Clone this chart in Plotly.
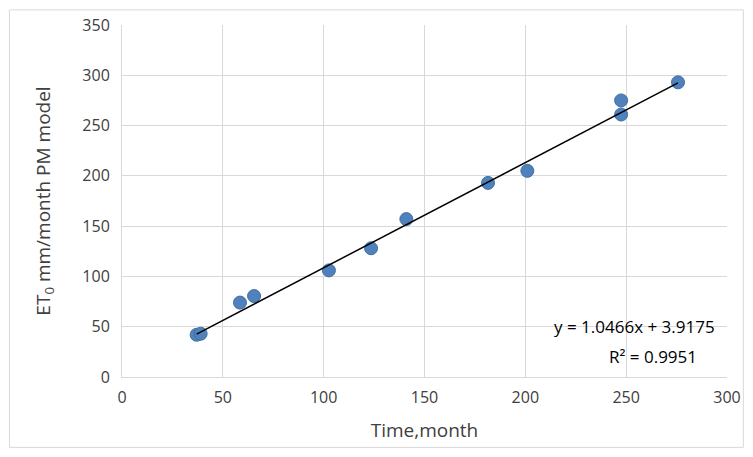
import plotly.graph_objects as go

time_month = [37, 39, 58.5, 65.5, 102.6, 123.5, 141, 181.5, 201, 247.5, 247.5, 275.7]
et0 = [42, 43, 74, 80.5, 106, 128, 157, 193, 205, 275, 261, 293]
slope, intercept = 1.0466, 3.9175
line_x = [min(time_month), max(time_month)]
line_y = [slope * v + intercept for v in line_x]

fig = go.Figure()
fig.add_trace(go.Scatter(x=time_month, y=et0, mode="markers",
                         marker=dict(color="#4F81BD", size=13, line=dict(color="#41719C", width=1))))
fig.add_trace(go.Scatter(x=line_x, y=line_y, mode="lines", line=dict(color="black", width=1.5)))
grid = "#D9D9D9"
fig.update_layout(
    width=737, height=441, showlegend=False,
    margin=dict(l=114, r=18, t=17, b=72),
    plot_bgcolor="white", paper_bgcolor="white",
    font=dict(family="Open Sans", size=16, color="#404040"),
    xaxis=dict(range=[0, 300], dtick=50, showgrid=True, gridcolor=grid, zeroline=False, automargin=False,
               showline=True, linecolor=grid, ticks="", ticklabelstandoff=6,
               title=dict(text="Time,month", standoff=16)),
    yaxis=dict(range=[0, 350], dtick=50, showgrid=True, gridcolor=grid, zeroline=False, automargin=False,
               showline=True, linecolor=grid, ticks="", ticklabelstandoff=8,
               title=dict(text="ET<sub>0</sub> mm/month PM model", standoff=26)),
    shapes=[dict(type="rect", xref="paper", yref="paper", x0=-0.186, x1=1.027, y0=-0.2, y1=1.043,
                 line=dict(color="#D9D9D9", width=1))],
    annotations=[
        dict(x=295, y=50, xref="x", yref="y", text="y = 1.0466x + 3.9175", showarrow=False,
             xanchor="right", font=dict(size=17, color="black")),
        dict(x=286, y=20, xref="x", yref="y", text="R² = 0.9951", showarrow=False,
             xanchor="right", font=dict(size=17, color="black")),
    ],
)
fig.write_html("out.html")
